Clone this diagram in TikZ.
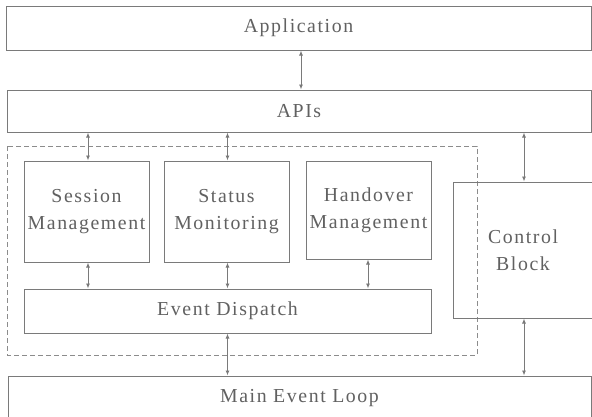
\documentclass[tikz,border=0pt]{standalone}
\usepackage{fontspec}
\setmainfont{Liberation Serif}[LetterSpace=8]
\usetikzlibrary{arrows.meta}
\definecolor{linec}{gray}{0.48}
\definecolor{dashc}{gray}{0.55}
\definecolor{textc}{gray}{0.38}
\begin{document}
\begin{tikzpicture}[x=1pt,y=-1pt,
  box/.style={draw=linec, line width=1pt, rectangle, inner sep=0pt, align=center,
    text=textc, font=\fontsize{19.8}{27}\selectfont},
  arr/.style={draw=linec, line width=0.9pt, {Latex[length=5pt,width=4pt]}-{Latex[length=5pt,width=4pt]}},
  grp/.style={draw=dashc, line width=1pt, dash pattern=on 5pt off 3pt}]
\useasboundingbox[fill=white] (0,0) rectangle (592,416);
\node[box, minimum width=585pt, minimum height=44pt] (app) at (298.5,28) {Application};
\node[box, minimum width=584pt, minimum height=42pt] (api) at (299,111) {APIs};
\draw[grp] (7,146) rectangle (477,355);
\node[box, minimum width=125pt, minimum height=101pt] (sess) at (86.5,211.5) {Session\\Management};
\node[box, minimum width=125pt, minimum height=101pt] (stat) at (226.5,211.5) {Status\\Monitoring};
\node[box, minimum width=125pt, minimum height=98pt] (hand) at (368.5,210) {Handover\\Management};
\node[box, minimum width=140pt, minimum height=136pt] (ctrl) at (523,250) {Control\\Block};
\node[box, minimum width=407pt, minimum height=44pt] (ed) at (227.5,311) {Event Dispatch};
\node[box, minimum width=583pt, minimum height=44pt] (main) at (299.5,398) {Main Event Loop};
\coordinate (xa) at (301,0);
\coordinate (xs) at (88,0);
\coordinate (xt) at (227.5,0);
\coordinate (xh) at (368,0);
\coordinate (xc) at (524,0);
\draw[arr] (app.south -| xa) -- (api.north -| xa);
\draw[arr] (api.south -| xs) -- (sess.north -| xs);
\draw[arr] (api.south -| xt) -- (stat.north -| xt);
\draw[arr] (api.south -| xc) -- (ctrl.north -| xc);
\draw[arr] (sess.south -| xs) -- (ed.north -| xs);
\draw[arr] (stat.south -| xt) -- (ed.north -| xt);
\draw[arr] (hand.south -| xh) -- (ed.north -| xh);
\draw[arr] (ed.south -| xt) -- (main.north -| xt);
\draw[arr] (ctrl.south -| xc) -- (main.north -| xc);
\end{tikzpicture}
\end{document}
